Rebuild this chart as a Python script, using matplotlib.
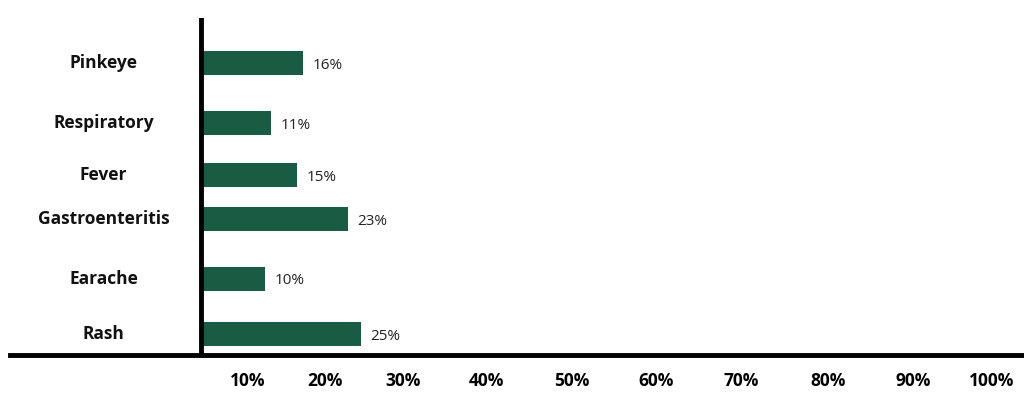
import matplotlib
matplotlib.use("Agg")
import matplotlib.pyplot as plt

categories = ["Pinkeye", "Respiratory", "Fever", "Gastroenteritis", "Earache", "Rash"]
values = [16, 11, 15, 23, 10, 25]
tick_labels = ["10%", "20%", "30%", "40%", "50%", "60%", "70%", "80%", "90%", "100%"]

ypos = [63, 123, 175, 219, 279, 334]  # vertical slot of each row
tick_pos = [7.3, 19.4, 31.6, 44.7, 58, 71.1, 84.4, 98, 111.3, 123.6]

plt.rcParams['font.family'] = ['Open Sans', 'DejaVu Sans']
fig = plt.figure(figsize=(10.24, 4.09), dpi=100)
ax = fig.add_axes([10/1024, 54/409, 1014/1024, 337/409])
ax.set_xlim(-29.8, 128.6)
ax.set_ylim(355, 18)
ax.barh(ypos, values, height=24, color="#175c43", left=0)
for y, v, c in zip(ypos, values, categories):
    ax.text(v + 1.5, y + 2, f"{v}%", va="center", ha="left", fontsize=11, color="#222")
    ax.text(-15.2, y, c, va="center", ha="center", fontsize=12.5, fontweight="bold", color="#111")
for sp in ["top", "right", "left"]:
    ax.spines[sp].set_visible(False)
ax.spines["bottom"].set_linewidth(3.5)
ax.axvline(0, color="black", lw=3.5)
ax.set_yticks([])
ax.set_xticks(tick_pos)
ax.set_xticklabels(tick_labels, fontsize=12.5, fontweight="bold")
ax.tick_params(axis="x", length=0, pad=12)
fig.savefig("out.png", dpi=100)
